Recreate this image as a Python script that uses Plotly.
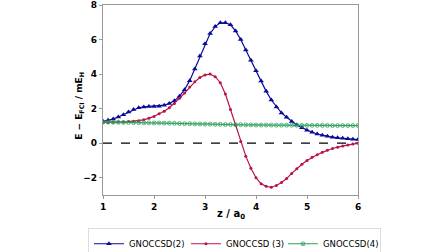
import plotly.graph_objects as go

z = [round(1.0 + 0.1 * i, 1) for i in range(51)]

gnoccsd2 = [1.27, 1.33, 1.40, 1.52, 1.65, 1.80, 1.95, 2.05, 2.10, 2.12,
            2.13, 2.14, 2.20, 2.30, 2.45, 2.72, 3.10, 3.62, 4.30, 5.05,
            5.75, 6.35, 6.75, 6.97, 6.97, 6.85, 6.50, 6.00, 5.40, 4.80,
            4.20, 3.60, 3.00, 2.50, 2.10, 1.75, 1.50, 1.25, 1.05, 0.90,
            0.75, 0.63, 0.53, 0.46, 0.40, 0.35, 0.31, 0.28, 0.25, 0.23, 0.21]

gnoccsd3 = [1.20, 1.20, 1.21, 1.22, 1.23, 1.25, 1.27, 1.30, 1.35, 1.45,
            1.55, 1.70, 1.85, 2.05, 2.30, 2.60, 2.90, 3.25, 3.55, 3.80,
            3.95, 4.00, 3.85, 3.50, 2.85, 1.95, 1.05, 0.10, -0.75, -1.45,
            -2.00, -2.35, -2.50, -2.55, -2.45, -2.28, -2.05, -1.75, -1.48, -1.22,
            -1.00, -0.82, -0.67, -0.53, -0.41, -0.31, -0.23, -0.16, -0.10, -0.05, -0.01]

gnoccsd4 = [1.22, 1.22, 1.21, 1.21, 1.20, 1.20, 1.19, 1.19, 1.18, 1.18,
            1.17, 1.17, 1.16, 1.16, 1.15, 1.14, 1.13, 1.13, 1.12, 1.11,
            1.10, 1.10, 1.09, 1.09, 1.08, 1.08, 1.07, 1.07, 1.06, 1.06,
            1.05, 1.05, 1.05, 1.05, 1.04, 1.04, 1.04, 1.04, 1.04, 1.03,
            1.03, 1.03, 1.03, 1.03, 1.03, 1.02, 1.02, 1.02, 1.02, 1.02, 1.02]

x_ticks = [1, 2, 3, 4, 5, 6]
y_ticks = [-2, 0, 2, 4, 6, 8]
x_title = "<b>z / a<sub>0</sub></b>"
y_title = "<b>E − E<sub>FCI</sub> / mE<sub>H</sub></b>"

fig = go.Figure()
fig.add_trace(go.Scatter(x=z, y=gnoccsd2, name="GNOCCSD(2)", mode="lines+markers",
                         line=dict(color="#0a0a9a", width=1.2),
                         marker=dict(symbol="triangle-up", size=5, color="#0a0a9a")))
fig.add_trace(go.Scatter(x=z, y=gnoccsd3, name="GNOCCSD (3)", mode="lines+markers",
                         line=dict(color="#b8134a", width=1.2),
                         marker=dict(symbol="circle", size=3, color="#b8134a")))
fig.add_trace(go.Scatter(x=z, y=gnoccsd4, name="GNOCCSD(4)", mode="lines+markers",
                         line=dict(color="#2ca05a", width=1),
                         marker=dict(symbol="circle-x-open", size=4, color="#2ca05a",
                                     line=dict(width=0.7))))

fig.add_shape(type="line", xref="x", yref="y", x0=1, x1=6, y0=0, y1=0,
              line=dict(color="black", width=1.2, dash="dash"), layer="below")

fig.add_annotation(text=x_title, xref="paper", yref="paper", x=0.5, y=-0.105,
                   xanchor="center", yanchor="middle", showarrow=False,
                   font=dict(family="DejaVu Sans", size=10, color="black"))
fig.add_annotation(text=y_title, xref="paper", yref="paper", x=-0.09, y=0.47,
                   xanchor="center", yanchor="middle", showarrow=False, textangle=-90,
                   font=dict(family="DejaVu Sans", size=9, color="black"))

fig.update_layout(
    width=448, height=252,
    margin=dict(l=103, r=90, t=5, b=57, autoexpand=False),
    plot_bgcolor="white", paper_bgcolor="white",
    font=dict(family="DejaVu Sans", size=9, color="black"),
    showlegend=True,
    legend=dict(orientation="h", x=-0.059, xanchor="left", xref="paper",
                y=-0.175, yanchor="top", yref="paper",
                bordercolor="#dddddd", borderwidth=1, font=dict(size=8.5),
                itemwidth=30, entrywidth=52, entrywidthmode="pixels",
                tracegroupgap=0),
    xaxis=dict(range=[1, 6], tickvals=x_ticks, showgrid=False, zeroline=False,
               automargin=False,
               showline=True, linecolor="#999999", linewidth=1.2, mirror=True,
               ticks="outside", ticklen=3, tickcolor="#999999",
               tickfont=dict(family="DejaVu Sans", size=9, weight="bold")),
    yaxis=dict(range=[-3, 8], tickvals=y_ticks, showgrid=False, zeroline=False,
               automargin=False,
               showline=True, linecolor="#999999", linewidth=1.2, mirror=True,
               ticks="outside", ticklen=3, tickcolor="#999999",
               tickformat="d",
               tickfont=dict(family="DejaVu Sans", size=9, weight="bold")),
)

post = "document.body.style.margin='0';document.body.style.padding='0';"
fig.write_html("out.html", config={"displayModeBar": False}, post_script=post)
